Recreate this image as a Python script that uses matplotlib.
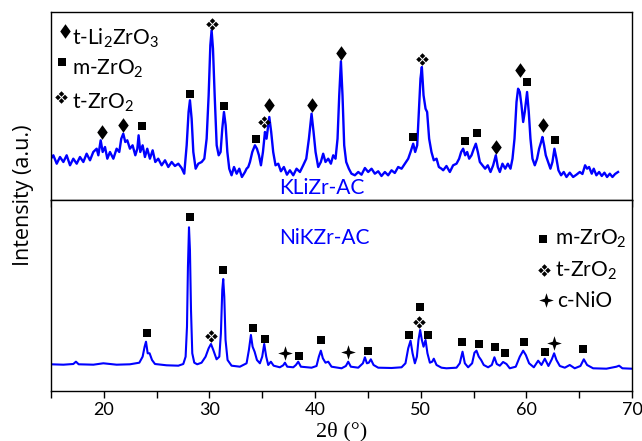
import matplotlib
matplotlib.use('Agg')
import matplotlib.pyplot as plt
from matplotlib.path import Path
from matplotlib.ticker import FixedLocator

plt.rcParams['font.family'] = ['Lato', 'DejaVu Sans']

# ---------------- data ----------------
# KLiZr-AC pattern (2theta, intensity a.u.)
kli_x = [15.0, 15.23, 15.55, 15.86, 16.18, 16.49, 16.81, 17.12, 17.44, 17.75, 18.07, 18.38, 18.70, 19.01,
         19.33, 19.49, 19.71, 19.90, 20.12, 20.34, 20.59, 20.91, 21.22, 21.47, 21.66, 21.85, 22.04, 22.23,
         22.48, 22.73, 22.99, 23.18, 23.30, 23.46, 23.68, 23.90, 24.12, 24.37, 24.63, 24.88, 25.16, 25.48,
         25.80, 26.11, 26.43, 26.74, 27.06, 27.37, 27.62, 27.85, 28.03, 28.16, 28.32, 28.48, 28.70, 28.95,
         29.27, 29.52, 29.74, 29.93, 30.09, 30.21, 30.34, 30.50, 30.69, 30.88, 31.06, 31.22, 31.38, 31.54,
         31.70, 31.88, 32.10, 32.33, 32.58, 32.83, 33.08, 33.37, 33.52, 33.68, 33.84, 34.06, 34.31, 34.50,
         34.69, 34.88, 35.07, 35.26, 35.41, 35.67, 35.85, 36.04, 36.26, 36.52, 36.77, 37.05, 37.34, 37.62,
         37.94, 38.25, 38.57, 38.88, 39.17, 39.42, 39.67, 39.86, 40.05, 40.30, 40.55, 40.77, 40.99, 41.25,
         41.50, 41.72, 41.94, 42.13, 42.29, 42.45, 42.60, 42.76, 42.95, 43.20, 43.45, 43.77, 44.09, 44.40,
         44.72, 45.03, 45.35, 45.66, 45.98, 46.29, 46.61, 46.92, 47.24, 47.55, 47.87, 48.19, 48.50, 48.82,
         49.04, 49.29, 49.48, 49.67, 49.83, 49.98, 50.11, 50.27, 50.46, 50.61, 50.80, 51.02, 51.24, 51.50,
         51.72, 51.97, 52.13, 52.44, 52.76, 53.07, 53.39, 53.64, 53.83, 54.02, 54.21, 54.40, 54.59, 54.81,
         55.03, 55.22, 55.41, 55.60, 55.85, 56.10, 56.35, 56.61, 56.86, 57.11, 57.30, 57.49, 57.74, 58.00,
         58.25, 58.50, 58.69, 58.88, 59.07, 59.22, 59.38, 59.54, 59.70, 59.85, 60.07, 60.23, 60.39, 60.58,
         60.80, 61.02, 61.21, 61.40, 61.52, 61.68, 61.84, 62.06, 62.28, 62.47, 62.66, 62.85, 63.04, 63.29,
         63.54, 63.80, 64.11, 64.43, 64.74, 65.06, 65.31, 65.56, 65.75, 65.94, 66.19, 66.38, 66.63, 66.89,
         67.14, 67.39, 67.64, 67.90, 68.15, 68.40, 68.68]
kli_y = [41.3, 44.7, 36.3, 43.0, 38.0, 44.7, 34.7, 41.3, 36.3, 43.0, 38.0, 46.3, 39.7, 48.0,
         51.3, 44.7, 59.7, 48.0, 53.0, 41.3, 48.0, 41.3, 51.3, 48.0, 61.3, 66.3, 58.0, 59.7,
         51.3, 54.7, 44.7, 51.3, 64.7, 48.0, 54.7, 43.0, 51.3, 41.3, 49.7, 38.0, 41.3, 34.7,
         39.7, 33.0, 38.0, 34.0, 36.3, 32.0, 26.3, 54.7, 88.0, 99.7, 81.3, 48.0, 31.3, 36.3,
         38.0, 41.3, 61.3, 104.7, 154.7, 169.7, 151.3, 104.7, 54.7, 44.7, 48.0, 71.3, 88.0, 74.7,
         48.0, 31.3, 24.7, 33.0, 26.3, 31.3, 23.0, 28.0, 31.3, 33.0, 38.0, 48.0, 54.7, 51.3,
         44.7, 34.7, 48.0, 68.0, 61.3, 83.0, 68.0, 48.0, 34.7, 36.3, 28.7, 33.0, 25.3, 29.7,
         24.7, 31.3, 28.0, 34.7, 41.3, 61.3, 86.3, 68.0, 48.0, 33.0, 38.0, 46.3, 38.0, 41.3,
         36.3, 44.7, 41.3, 61.3, 104.7, 138.7, 104.7, 54.7, 38.0, 31.3, 26.3, 24.7, 28.0, 25.3,
         32.0, 28.0, 31.3, 26.3, 28.7, 24.0, 28.0, 24.7, 29.7, 27.0, 33.0, 31.3, 36.3, 41.3,
         48.0, 56.3, 48.0, 54.7, 88.0, 121.3, 133.0, 104.7, 91.3, 88.0, 61.3, 48.0, 39.7, 41.3,
         33.0, 31.3, 29.7, 34.0, 28.0, 34.7, 36.3, 41.3, 48.0, 51.3, 44.7, 48.0, 41.3, 44.7,
         51.3, 56.3, 48.0, 38.0, 34.7, 31.3, 34.7, 28.0, 34.7, 44.7, 33.0, 28.0, 36.3, 31.3,
         36.3, 31.3, 41.3, 61.3, 98.0, 111.3, 108.0, 94.7, 78.0, 88.0, 108.0, 88.0, 61.3, 41.3,
         34.7, 41.3, 51.3, 58.0, 63.0, 54.7, 44.7, 38.0, 31.3, 38.0, 51.3, 41.3, 29.7, 24.7,
         28.0, 23.0, 27.3, 23.0, 25.3, 28.0, 26.0, 34.7, 31.3, 33.0, 26.3, 31.3, 24.7, 28.0,
         24.0, 27.3, 23.0, 26.3, 23.0, 26.0, 28.0]

# NiKZr-AC pattern
nik_x = [15.0, 16.18, 17.12, 17.37, 17.63, 19.02, 19.96, 21.22, 22.48, 23.37, 23.68, 23.87, 24.00, 24.16,
         24.34, 24.57, 24.85, 25.95, 27.06, 27.53, 27.75, 27.88, 27.97, 28.07, 28.16, 28.26, 28.38, 28.57,
         28.85, 29.26, 29.64, 29.93, 30.15, 30.37, 30.68, 30.94, 31.09, 31.22, 31.31, 31.41, 31.53, 31.72,
         32.10, 32.89, 33.52, 33.74, 33.93, 34.09, 34.28, 34.50, 34.78, 35.00, 35.19, 35.38, 35.57, 35.82,
         36.08, 36.67, 36.99, 37.15, 37.37, 37.94, 38.19, 38.41, 38.66, 39.67, 40.14, 40.36, 40.55, 40.74,
         40.99, 41.25, 41.56, 42.51, 42.92, 43.14, 43.39, 44.09, 44.53, 44.72, 44.91, 45.09, 45.28, 45.54,
         45.98, 47.24, 48.19, 48.56, 48.82, 49.04, 49.23, 49.45, 49.64, 49.79, 49.95, 50.11, 50.27, 50.46,
         50.64, 50.87, 51.09, 51.24, 51.50, 51.97, 52.44, 53.39, 53.70, 53.96, 54.18, 54.49, 54.87, 55.09,
         55.28, 55.50, 55.72, 55.97, 56.38, 56.73, 56.98, 57.20, 57.49, 57.80, 58.12, 58.43, 59.00, 59.38,
         59.70, 59.95, 60.26, 60.71, 61.12, 61.43, 61.75, 62.09, 62.41, 62.63, 62.85, 63.17, 63.64, 64.11,
         64.58, 65.12, 65.44, 65.75, 66.32, 67.58, 68.53, 68.78, 69.09, 69.95]
nik_y = [26.7, 26.3, 27.0, 29.3, 26.7, 26.3, 27.7, 26.3, 26.7, 28.3, 34.3, 44.3, 49.3, 37.7,
         37.7, 31.0, 27.0, 25.7, 25.3, 27.0, 34.3, 64.3, 124.3, 163.7, 141.0, 81.0, 37.7, 28.3,
         26.7, 28.3, 34.3, 42.7, 47.0, 41.0, 31.7, 34.3, 57.7, 101.0, 112.0, 94.3, 51.0, 31.0,
         25.3, 24.3, 27.7, 41.0, 56.0, 44.3, 39.3, 31.0, 27.7, 34.3, 47.0, 34.3, 26.0, 29.3,
         25.3, 23.7, 25.7, 28.3, 24.3, 23.7, 26.0, 29.3, 24.3, 23.3, 25.0, 34.3, 40.3, 32.7,
         28.3, 29.3, 24.3, 22.7, 25.0, 29.3, 24.3, 23.3, 27.7, 33.7, 27.7, 28.3, 31.7, 26.0,
         23.3, 23.0, 23.7, 27.7, 42.7, 50.3, 37.7, 27.7, 34.3, 51.0, 61.0, 51.0, 44.3, 51.0,
         37.7, 28.3, 29.3, 32.3, 26.0, 23.3, 22.7, 23.3, 27.7, 39.3, 27.7, 23.7, 27.7, 38.3,
         40.3, 34.3, 31.0, 26.0, 23.7, 26.0, 33.7, 27.0, 25.3, 29.0, 27.0, 22.7, 24.3, 34.3,
         40.3, 36.0, 27.7, 23.7, 30.3, 26.0, 32.3, 25.0, 31.7, 37.7, 31.0, 25.0, 23.3, 26.0,
         22.7, 25.0, 31.7, 26.0, 22.7, 22.3, 24.3, 25.3, 22.7, 22.3]

# phase markers, top panel
top_li_x = [19.8, 21.8, 35.66, 39.67, 42.45, 57.1, 59.37, 61.6]
top_li_y = [68.0, 75.3, 94.7, 95.3, 147.3, 53.0, 130.3, 75.3]
top_m_x = [23.65, 28.2, 31.4, 34.4, 49.23, 54.2, 55.34, 60.1, 62.7]
top_m_y = [74.3, 106.3, 94.3, 60.7, 63.3, 58.7, 67.3, 117.7, 59.7]
top_t_x = [30.27, 35.2, 50.08]
top_t_y = [176.3, 78.0, 141.3]

# phase markers, bottom panel
bot_m_x = [24.1, 28.18, 31.28, 34.1, 35.26, 38.44, 40.6, 45.03, 48.9, 49.9, 50.7, 53.9, 55.5,
           57.0, 58.0, 59.8, 61.8, 65.4]
bot_m_y = [58.3, 174.3, 121.3, 63.3, 52.3, 35.3, 51.3, 40.3, 56.3, 83.7, 56.3, 49.3, 46.7,
           43.7, 38.0, 49.3, 39.3, 42.3]
bot_t_x = [30.2, 49.85]
bot_t_y = [55.0, 68.7]
bot_n_x = [37.15, 43.13, 62.6]
bot_n_y = [37.7, 39.3, 48.3]

x_ticks = [20, 30, 40, 50, 60, 70]
x_minor = [15, 25, 35, 45, 55, 65]

# ---------------- custom markers ----------------
def four_diamonds():
    verts, codes = [], []
    d, r = 0.56, 0.44
    for cx, cy in [(0, d), (d, 0), (0, -d), (-d, 0)]:
        pts = [(cx, cy + r), (cx + r, cy), (cx, cy - r), (cx - r, cy), (cx, cy + r)]
        verts += pts
        codes += [Path.MOVETO, Path.LINETO, Path.LINETO, Path.LINETO, Path.CLOSEPOLY]
    return Path(verts, codes)

def four_star():
    import math
    verts = []
    for k in range(8):
        ang = math.pi / 2 + k * math.pi / 4
        rad = 1.0 if k % 2 == 0 else 0.34
        verts.append((rad * math.cos(ang), rad * math.sin(ang)))
    verts.append(verts[0])
    codes = [Path.MOVETO] + [Path.LINETO] * 7 + [Path.CLOSEPOLY]
    return Path(verts, codes)

def tall_diamond():
    verts = [(0, 1), (0.72, 0), (0, -1), (-0.72, 0), (0, 1)]
    codes = [Path.MOVETO, Path.LINETO, Path.LINETO, Path.LINETO, Path.CLOSEPOLY]
    return Path(verts, codes)

TZ = four_diamonds()
ST = four_star()
DM = tall_diamond()

BLUE = '#0000FF'
FS = 15

fig = plt.figure(figsize=(6.42, 4.41), dpi=100)
ax1 = fig.add_axes([0.0793, 0.5465, 0.9051, 0.4263])
ax2 = fig.add_axes([0.0793, 0.1134, 0.9051, 0.4331])

for ax in (ax1, ax2):
    ax.set_xlim(15, 70)
    ax.set_yticks([])
    ax.xaxis.set_major_locator(FixedLocator(x_ticks))
    ax.xaxis.set_minor_locator(FixedLocator(x_minor))
    ax.tick_params(axis='x', which='both', direction='out', length=5, width=1.0, top=False)
    for s in ax.spines.values():
        s.set_linewidth(1.0)
        s.set_color('black')

ax1.set_ylim(0, 188)
ax2.set_ylim(0, 191)
ax1.tick_params(axis='x', labelbottom=False)
ax2.tick_params(axis='x', labelsize=13, pad=3)

ax1.plot(kli_x, kli_y, color=BLUE, lw=1.7)
ax2.plot(nik_x, nik_y, color=BLUE, lw=1.5)

mk = dict(ls='none', color='black', mew=0)
ax1.plot(top_li_x, top_li_y, marker=DM, ms=10.5, **mk)
ax1.plot(top_m_x, top_m_y, marker='s', ms=6, **mk)
ax1.plot(top_t_x, top_t_y, marker=TZ, ms=9, **mk)
ax2.plot(bot_m_x, bot_m_y, marker='s', ms=6, **mk)
ax2.plot(bot_t_x, bot_t_y, marker=TZ, ms=9, **mk)
ax2.plot(bot_n_x, bot_n_y, marker=ST, ms=10.5, **mk)

# legends drawn by hand
ax1.plot([16.33], [169.3], marker=DM, ms=10.5, clip_on=False, **mk)
ax1.text(17.0, 155.7, r't-Li$\mathregular{_2}$ZrO$\mathregular{_3}$', fontsize=FS, va='baseline', ha='left')
ax1.plot([16.02], [137.7], marker='s', ms=6, clip_on=False, **mk)
ax1.text(17.0, 125.0, r'm-ZrO$\mathregular{_2}$', fontsize=FS, va='baseline', ha='left')
ax1.plot([15.93], [102.7], marker=TZ, ms=9, clip_on=False, **mk)
ax1.text(16.97, 91.7, r't-ZrO$\mathregular{_2}$', fontsize=FS, va='baseline', ha='left')

ax2.plot([61.56], [151.7], marker='s', ms=6, **mk)
ax2.text(62.69, 146.0, r'm-ZrO$\mathregular{_2}$', fontsize=FS, va='baseline', ha='left')
ax2.plot([61.68], [121.0], marker=TZ, ms=9, **mk)
ax2.text(62.69, 114.3, r't-ZrO$\mathregular{_2}$', fontsize=FS, va='baseline', ha='left')
ax2.plot([61.84], [91.0], marker=ST, ms=10.5, **mk)
ax2.text(62.91, 83.7, 'c-NiO', fontsize=FS, va='baseline', ha='left')

ax1.text(40.65, 12.0, 'KLiZr-AC', color=BLUE, fontsize=FS, ha='center', va='center')
ax2.text(40.84, 153.0, 'NiKZr-AC', color=BLUE, fontsize=FS, ha='center', va='center')

fig.text(24 / 642, 1 - 195 / 441, 'Intensity (a.u.)', rotation=90, fontsize=15.5,
         ha='center', va='center', family=['Open Sans', 'DejaVu Sans'])
fig.text(341.5 / 642, 1 - 432 / 441, '2θ (°)', fontsize=16, ha='center', va='center',
         family=['Liberation Serif', 'DejaVu Serif'])

fig.savefig('out.png', dpi=100)
